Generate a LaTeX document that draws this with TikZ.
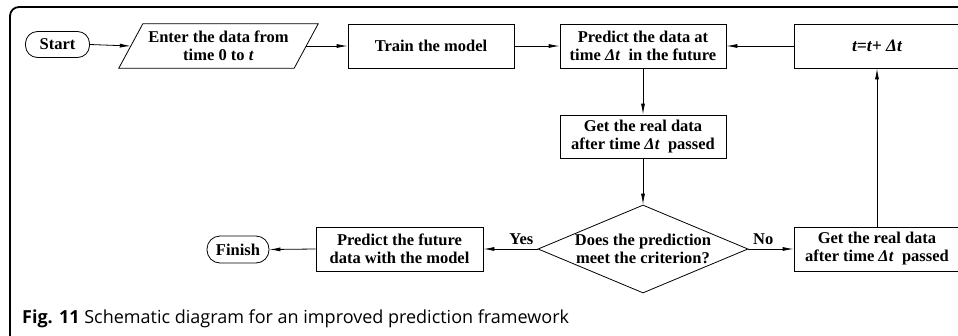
\documentclass[tikz,border=0pt]{standalone}
\usepackage{fontspec}
\setmainfont{Liberation Serif}
\newfontfamily\capfont{Open Sans}
\usetikzlibrary{shapes.geometric,arrows.meta}
\begin{document}
\begin{tikzpicture}[x=1pt,y=-1pt,
  every node/.style={font=\bfseries\fontsize{16.5}{18}\selectfont, align=center, inner sep=0pt},
  box/.style={draw, line width=0.8pt, minimum width=166pt, minimum height=44pt},
  term/.style={draw, line width=0.8pt, rounded corners=12pt, minimum height=26pt},
  decbox/.style={draw, line width=0.8pt, diamond, aspect=2.4, minimum width=210pt, minimum height=88pt},
  arr/.style={draw, line width=0.8pt, -{Latex[length=11pt,width=4pt]}},
  lbl/.style={above, inner sep=4pt}]
\useasboundingbox (0,0) rectangle (958,335);
% frame
\draw[line width=1.8pt, rounded corners=9pt] (10,345) -- (10,7) -- (970,7);
% nodes
\node[term, minimum width=64pt] (start) at (57.5,44.5) {Start};
\node[minimum width=175pt, minimum height=44pt] (in) at (218.5,46) {Enter the data from\\time 0 to \textit{t}};
\draw[line width=0.8pt] ([xshift=12pt]in.north west) -- ([xshift=12pt]in.north east)
  -- ([xshift=-12pt]in.south east) -- ([xshift=-12pt]in.south west) -- cycle;
\node[box] (train) at (431,46) {Train the model};
\node[box] (pred) at (643,46) {Predict the data at\\time \textit{Δt}~ in the future};
\node[box, font=\bfseries\itshape\fontsize{17.5}{19}\selectfont] (tbox) at (877,46) {t=t+ Δt};
\node[box, minimum height=43pt] (real1) at (643,136.5) {Get the real data\\after time \textit{Δt}~ passed};
\node[decbox] (dec) at (643,249) {Does the prediction\\meet the criterion?};
\node[box] (real2) at (877,249) {Get the real data\\after time \textit{Δt}~ passed};
\node[box, minimum width=167pt] (future) at (399.5,249) {Predict the future\\data with the model};
\node[term, minimum width=62pt, minimum height=27pt, rounded corners=13pt] (finish) at (238,249.5) {Finish};
% connectors
\draw[arr] (start.east) -- (in.west);
\draw[arr] (in.east) -- (train.west);
\draw[arr] (train.east) -- (pred.west);
\draw[arr] (tbox.west) -- (pred.east);
\draw[arr] (pred.south) -- (real1.north);
\draw[arr] (real1.south) -- (dec.north);
\draw[arr] (dec.west) -- node[lbl, pos=0.3] {Yes} (future.east);
\draw[arr] (dec.east) -- node[lbl, pos=0.33] {No} (real2.west);
\draw[arr] (real2.north) -- (tbox.south);
\draw[arr] (future.west) -- (finish.east);
% caption
\node[anchor=base west, font=\capfont\fontsize{18}{20}\selectfont] (cap) at (22,323) {\textbf{Fig. 11} Schematic diagram for an improved prediction framework};
\end{tikzpicture}
\end{document}
